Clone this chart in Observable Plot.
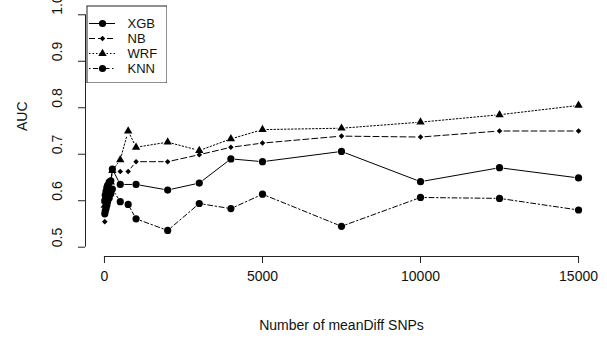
<!DOCTYPE html>
<html><head><meta charset="utf-8">
<script src="https://cdn.jsdelivr.net/npm/d3@7"></script>
<script src="https://cdn.jsdelivr.net/npm/@observablehq/plot@0.6"></script>
<style>
body{margin:0;background:#fff;}
#wrap{position:relative;width:607px;height:339px;}
#legend{position:absolute;left:86px;top:5px;}
</style></head><body>
<div id="wrap"></div>
<script>
// Data
const snps = [10, 25, 50, 75, 100, 150, 200, 250, 500, 750, 1000, 2000, 3000, 4000, 5000, 7500, 10000, 12500, 15000];
const xgb = [0.600, 0.612, 0.620, 0.628, 0.633, 0.640, 0.643, 0.668, 0.635, null, 0.635, 0.623, 0.638, 0.690, 0.684, 0.706, 0.641, 0.671, 0.649];
const nb  = [0.555, 0.575, 0.585, 0.595, 0.605, 0.615, 0.625, 0.668, 0.663, 0.663, 0.684, 0.684, 0.699, 0.715, 0.724, 0.739, 0.737, 0.750, 0.750];
const wrf = [0.590, 0.600, 0.610, 0.618, 0.625, 0.632, 0.640, 0.665, 0.688, 0.750, 0.715, 0.726, 0.708, 0.733, 0.753, 0.756, 0.769, 0.785, 0.805];
const knn = [0.572, 0.578, 0.583, 0.590, 0.598, 0.606, 0.615, 0.625, 0.598, 0.592, 0.561, 0.536, 0.594, 0.583, 0.614, 0.545, 0.607, 0.605, 0.580];
const seriesNames = ["XGB", "NB", "WRF", "KNN"];
const xTicks = [0, 5000, 10000, 15000];
const yTicks = [0.5, 0.6, 0.7, 0.8, 0.9, 1.0];
const xLabel = "Number of meanDiff SNPs";
const yLabel = "AUC";

// styles per series
const styles = {
  XGB: {values: xgb, symbol: "circle", r: 3.6, dash: null},
  NB:  {values: nb,  symbol: "diamond2", r: 2.5, dash: "6,3"},
  WRF: {values: wrf, symbol: "triangle", r: 3.1, dash: "1.5,2"},
  KNN: {values: knn, symbol: "circle", r: 3.6, dash: "1.5,2.5,5,2.5"}
};

const font = "'Liberation Sans', Arial, Helvetica, sans-serif";
const xDomain = [-600, 15600];   // R default 4% axis extension
const yDomain = [0.48, 1.02];

const seriesMarks = [];
for (const name of seriesNames) {
  const s = styles[name];
  const pts = snps.map((x, i) => ({x, y: s.values[i]})).filter(d => d.y != null);
  const segs = pts.slice(1).map((d, i) => ({x1: pts[i].x, y1: pts[i].y, x2: d.x, y2: d.y}));
  seriesMarks.push(Plot.arrow(segs, {x1: "x1", y1: "y1", x2: "x2", y2: "y2", headLength: 0, inset: 4.5,
    stroke: "#000", strokeWidth: 1, strokeDasharray: s.dash || undefined}));
  seriesMarks.push(Plot.dot(pts, {x: "x", y: "y", symbol: s.symbol, r: s.r, fill: "#000", stroke: "none"}));
}

const chart = Plot.plot({
  width: 607, height: 339,
  marginLeft: 85, marginRight: 10, marginTop: 5, marginBottom: 83,
  x: {domain: xDomain},
  y: {domain: yDomain},
  style: {fontFamily: font, fontSize: "14px", color: "#000", background: "#fff"},
  marks: [
    Plot.ruleY([yDomain[0]], {x1: xTicks[0], x2: xTicks[xTicks.length - 1], stroke: "#222"}),
    Plot.ruleX([xDomain[0]], {y1: yTicks[0], y2: yTicks[yTicks.length - 1], stroke: "#222"}),
    Plot.axisX(xTicks, {tickSize: 7, tickPadding: 8, tickFormat: d => String(d), fontSize: 14, label: null, stroke: "#222", fill: "#111"}),
    Plot.axisY(yTicks, {tickSize: 7, fill: "none", label: null, stroke: "#222"}),
    Plot.text(yTicks, {y: d => d, text: d => d.toFixed(1), frameAnchor: "left", dx: -28, rotate: -90, fontSize: 14, fill: "#111"}),
    Plot.text([yLabel], {text: d => d, frameAnchor: "left", dx: -63, rotate: -90, fontSize: 14, fill: "#111"}),
    Plot.text([xLabel], {text: d => d, frameAnchor: "bottom", dy: 73, fontSize: 14, fill: "#111"}),
    ...seriesMarks
  ]
});

const legendMarks = [Plot.frame({stroke: "#222", inset: 0.5})];
for (const name of seriesNames) {
  const s = styles[name];
  legendMarks.push(Plot.ruleY([name], {y: d => d, x1: 3, x2: 29, stroke: "#000", strokeDasharray: s.dash || undefined}));
  legendMarks.push(Plot.dot([name], {x: 16, y: d => d, symbol: s.symbol, r: s.r, fill: "#000", stroke: "none"}));
  legendMarks.push(Plot.text([name], {x: 41, y: d => d, text: d => d, textAnchor: "start", fontSize: 13, fill: "#111"}));
}
const legend = Plot.plot({
  width: 81, height: 78, margin: 0,
  x: {type: "identity"},
  y: {type: "point", domain: seriesNames, range: [18, 63], padding: 0},
  axis: null,
  style: {fontFamily: font, fontSize: "13px", color: "#000", background: "#fff"},
  marks: legendMarks
});
legend.id = "legend";

const wrap = document.getElementById("wrap");
wrap.appendChild(chart);
wrap.appendChild(legend);
</script>
</body></html>
